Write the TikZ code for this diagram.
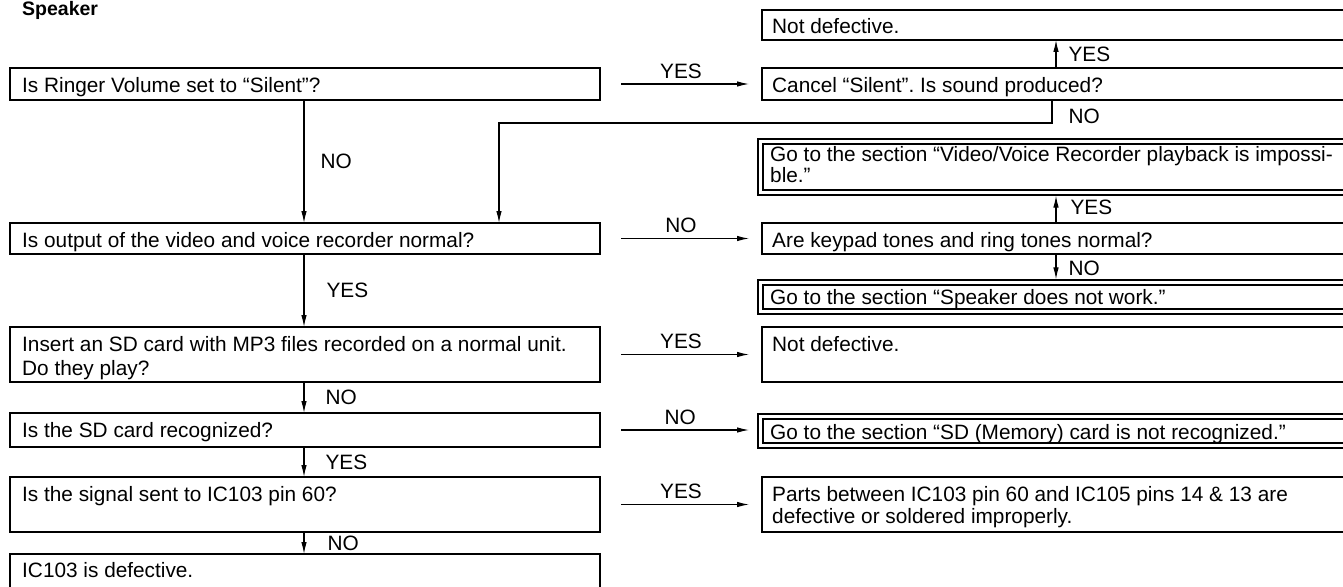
\documentclass[tikz,border=0pt]{standalone}
\usepackage{fontspec}
\setmainfont{Liberation Sans}
\usetikzlibrary{arrows.meta}
\newcommand{\bodyfs}{\fontsize{20.8}{22}\selectfont}
\newcommand{\tstrut}{\rule{0pt}{17pt}}
\frenchspacing
\begin{document}
\begin{tikzpicture}[x=1pt,y=-1pt,
  box/.style={draw, line width=1.7pt, inner sep=0pt, outer sep=0pt, anchor=north west},
  dbox/.style={draw, double, double distance=3.4pt, line width=1.4pt, inner sep=0pt, outer sep=0pt, anchor=north west},
  txt/.style={inner sep=0pt, anchor=north west, align=left, font=\bodyfs},
  lbl/.style={inner sep=0pt, font=\bodyfs},
  arr/.style={line width=1.1pt, -{Latex[length=12pt,width=5.5pt]}},
  harr/.style={arr, shorten <=21pt, shorten >=13pt}]
\useasboundingbox (0,0) rectangle (1343,586);
\fill[white] (0,0) rectangle (1343,586);
\clip (0,0) rectangle (1343,586);

\node[anchor=base west, inner sep=0pt, font=\fontsize{19.5}{20}\selectfont\bfseries] (title) at (22,16) {Speaker};

% left column
\node[box, minimum width=590pt, minimum height=32pt] (b1) at (10,68) {};
\node[txt] (t1) at ([shift={(12,7)}]b1.north west) {\tstrut Is Ringer Volume set to “Silent”?};
\node[box, minimum width=590pt, minimum height=31pt] (b2) at (10,223) {};
\node[txt] (t2) at ([shift={(12,7)}]b2.north west) {\tstrut Is output of the video and voice recorder normal?};
\node[box, minimum width=590pt, minimum height=55pt] (b3) at (10,327) {};
\node[txt] (t3) at ([shift={(12,7)}]b3.north west) {\tstrut Insert an SD card with MP3 files recorded on a normal unit.\\[2pt] Do they play?};
\node[box, minimum width=590pt, minimum height=34pt] (b4) at (10,413) {};
\node[txt] (t4) at ([shift={(12,7)}]b4.north west) {\tstrut Is the SD card recognized?};
\node[box, minimum width=590pt, minimum height=55pt] (b5) at (10,477) {};
\node[txt] (t5) at ([shift={(12,7)}]b5.north west) {\tstrut Is the signal sent to IC103 pin 60?};
\node[box, minimum width=590pt, minimum height=45pt] (b6) at (10,554) {};
\node[txt] (t6) at ([shift={(12,6)}]b6.north west) {\tstrut IC103 is defective.};

% right column
\node[box, minimum width=600pt, minimum height=30pt] (r1) at (762,10) {};
\node[txt] (s1) at ([shift={(10,6)}]r1.north west) {\tstrut Not defective.};
\node[box, minimum width=600pt, minimum height=32pt] (r2) at (762,68) {};
\node[txt] (s2) at ([shift={(10,7)}]r2.north west) {\tstrut Cancel “Silent”. Is sound produced?};
\node[dbox, minimum width=602pt, minimum height=51pt] (r3) at (760.5,141.5) {};
\node[txt] (s3) at ([shift={(9.5,2.5)}]r3.north west) {\tstrut Go to the section “Video/Voice Recorder playback is impossi-\\[-1pt] ble.”};
\node[box, minimum width=600pt, minimum height=31pt] (r4) at (762,223) {};
\node[txt] (s4) at ([shift={(10,7)}]r4.north west) {\tstrut Are keypad tones and ring tones normal?};
\node[dbox, minimum width=602pt, minimum height=29pt] (r5) at (760.5,282.5) {};
\node[txt] (s5) at ([shift={(9.5,4.5)}]r5.north west) {\tstrut Go to the section “Speaker does not work.”};
\node[box, minimum width=600pt, minimum height=55pt] (r6) at (762,327) {};
\node[txt] (s6) at ([shift={(10,7)}]r6.north west) {\tstrut Not defective.};
\node[dbox, minimum width=602pt, minimum height=29pt] (r7) at (760.5,416.5) {};
\node[txt] (s7) at ([shift={(9.5,5.5)}]r7.north west) {\tstrut Go to the section “SD (Memory) card is not recognized.”};
\node[box, minimum width=600pt, minimum height=55pt] (r8) at (762,477) {};
\node[txt] (s8) at ([shift={(10,7)}]r8.north west) {\tstrut Parts between IC103 pin 60 and IC105 pins 14 \& 13 are\\ defective or soldered improperly.};

% connector columns
\coordinate (lc) at (304,0);
\coordinate (rc) at (1056,0);
\coordinate (rn) at (1052,123);
\coordinate (rr) at (499,123);

% left vertical arrows
\draw[arr] (b1.south -| lc) -- (b2.north -| lc) node[lbl, midway, right=16pt] (n1) {NO};
\draw[arr] (b2.south -| lc) -- (b3.north -| lc) node[lbl, midway, right=22pt] (n2) {YES};
\draw[arr] (b3.south -| lc) -- (b4.north -| lc) node[lbl, midway, right=21pt] (n3) {NO};
\draw[arr] (b4.south -| lc) -- (b5.north -| lc) node[lbl, midway, right=21pt] (n4) {YES};
\draw[arr] (b5.south -| lc) -- (b6.north -| lc) node[lbl, midway, right=23pt] (n5) {NO};

% horizontal arrows
\draw[harr] (b1.east) -- (r2.west) node[lbl, midway, above=5pt] (h1) {YES};
\draw[harr] (b2.east) -- (r4.west) node[lbl, midway, above=5pt] (h2) {NO};
\draw[harr] (b3.east) -- (r6.west) node[lbl, midway, above=5pt] (h3) {YES};
\draw[harr, shorten >=11.5pt] (b4.east) -- (b4.east -| r7.west) node[lbl, midway, above=5pt] (h4) {NO};
\draw[harr] (b5.east) -- (r8.west) node[lbl, midway, above=5pt] (h5) {YES};

% right vertical arrows
\draw[arr] (r2.north -| rc) -- (r1.south -| rc) node[lbl, midway, right=12pt] (m1) {YES};
\draw[arr, shorten >=3.1pt] (r4.north -| rc) -- (r3.south -| rc) node[lbl, midway, right=14pt] (m2) {YES};
\draw[arr, shorten >=3.1pt] (r4.south -| rc) -- (r5.north -| rc) node[lbl, midway, right=12pt] (m3) {NO};

% NO route back to the second question
\draw[arr] (r2.south -| rn) -- (rn) node[lbl, pos=0.7, right=16pt] (m4) {NO} -- (rr) -- (b2.north -| rr);
\end{tikzpicture}
\end{document}
